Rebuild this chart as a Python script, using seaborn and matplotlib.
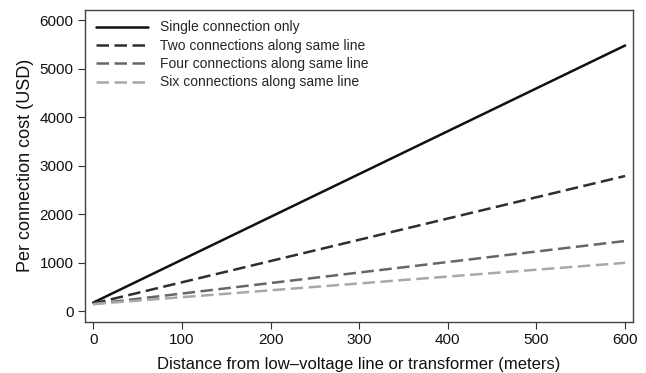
import pandas as pd
import matplotlib.pyplot as plt
import seaborn as sns

# values
distance = [0, 600]
single = [180, 5480]
two = [160, 2790]
four = [150, 1450]
six = [150, 1000]
labels = ['Single connection only', 'Two connections along same line',
          'Four connections along same line', 'Six connections along same line']

df = pd.concat([
    pd.DataFrame({'distance': distance, 'cost': vals, 'series': lab})
    for vals, lab in zip([single, two, four, six], labels)
])

sns.set_style('ticks')
plt.rcParams['font.family'] = ['Liberation Sans', 'DejaVu Sans']

colors = dict(zip(labels, ['#111111', '#2e2e2e', '#666666', '#a8a8a8']))
dashes = dict(zip(labels, ['', (5, 2.2), (5, 2.2), (5, 2.2)]))

fig, ax = plt.subplots(figsize=(6.46, 3.73), dpi=100)
sns.lineplot(data=df, x='distance', y='cost', hue='series', style='series',
             palette=colors, dashes=dashes, linewidth=1.8, ax=ax)

ax.set_xlim(-9, 609)
ax.set_ylim(-210, 6210)
ax.set_xticks(range(0, 601, 100))
ax.set_yticks(range(0, 6001, 1000))
ax.tick_params(labelsize=11, color='#333333', length=5, labelcolor='#111111')
ax.set_xlabel('Distance from low\u2013voltage line or transformer (meters)', fontsize=12,
              color='#111111', labelpad=7)
ax.set_ylabel('Per connection cost (USD)', fontsize=13, color='#111111')
for s in ax.spines.values():
    s.set_color('#444444')
    s.set_linewidth(1.0)

ax.legend(loc='upper left', frameon=False, fontsize=10, handlelength=3.8,
          labelspacing=0.31, borderaxespad=0.35, title=None)

plt.subplots_adjust(left=0.132, right=0.98, top=0.973, bottom=0.138)
plt.savefig('out.png')
